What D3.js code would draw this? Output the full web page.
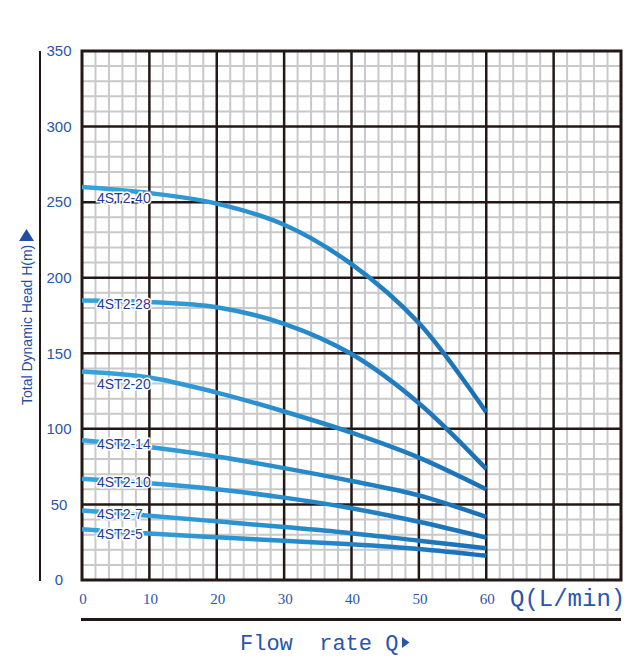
<!DOCTYPE html>
<html>
<head>
<meta charset="utf-8">
<script src="https://cdn.jsdelivr.net/npm/d3@7"></script>
<style>
  body { margin: 0; background: #fff; }
</style>
</head>
<body>
<div id="chart"></div>
<script>
// flow rate points (L/min) shared by every curve
var flow = [0, 10, 20, 30, 40, 50, 60];

// pump models, top to bottom
var models = ["4ST2-40", "4ST2-28", "4ST2-20", "4ST2-14", "4ST2-10", "4ST2-7", "4ST2-5"];

// head (m) for each model at the flow points above
var head40 = [260, 256, 249, 235, 209, 170, 111];
var head28 = [185, 184, 180.5, 169.5, 149.5, 117, 73.5];
var head20 = [138, 134, 124, 111.5, 97.5, 81, 60];
var head14 = [92.5, 88, 81.7, 74, 65.5, 56, 41.7];
var head10 = [67, 64, 60, 54.5, 47.5, 38.5, 28];
var head7 = [46, 42.5, 38.8, 35, 31, 26, 21];
var head5 = [33.5, 30.7, 28.3, 26, 23.6, 20.5, 16];

var heads = [head40, head28, head20, head14, head10, head7, head5];

// tick labels
var xTicks = [0, 10, 20, 30, 40, 50, 60];
var yTicks = [0, 50, 100, 150, 200, 250, 300, 350];

// label offsets below the start of each curve (px)
var labelDy = [16, 9, 18, 9, 8, 9, 10];

var W = 634, H = 658;
var plot = {left: 82, right: 621, top: 51, bottom: 580};

var blue = "#2a55ab";
var ink = "#231815";

var x = d3.scaleLinear().domain([0, 80]).range([plot.left, plot.right]);
var y = d3.scaleLinear().domain([0, 350]).range([plot.bottom, plot.top]);

var svg = d3.select("#chart").append("svg")
    .attr("width", W)
    .attr("height", H);

// gradient for the curves: light blue on the left, darker on the right
var grad = svg.append("defs").append("linearGradient")
    .attr("id", "curveGrad")
    .attr("gradientUnits", "userSpaceOnUse")
    .attr("x1", x(0)).attr("x2", x(60))
    .attr("y1", 0).attr("y2", 0);
grad.append("stop").attr("offset", "0%").attr("stop-color", "#36a5dd");
grad.append("stop").attr("offset", "50%").attr("stop-color", "#288dcc");
grad.append("stop").attr("offset", "100%").attr("stop-color", "#1a6fb6");

// minor grid
var grid = svg.append("g");
grid.selectAll(".vminor")
    .data(d3.range(0, 81, 2).filter(function(d) { return d % 10 != 0; }))
    .enter().append("line")
    .attr("x1", d => x(d)).attr("x2", d => x(d))
    .attr("y1", plot.top).attr("y2", plot.bottom)
    .attr("stroke", "#c9c9c9").attr("stroke-width", 2);
grid.selectAll(".hminor")
    .data(d3.range(0, 351, 10).filter(function(d) { return d % 50 != 0; }))
    .enter().append("line")
    .attr("y1", d => y(d)).attr("y2", d => y(d))
    .attr("x1", plot.left).attr("x2", plot.right)
    .attr("stroke", "#c9c9c9").attr("stroke-width", 2);

// major grid
grid.selectAll(".vmajor")
    .data(d3.range(10, 80, 10))
    .enter().append("line")
    .attr("x1", d => x(d)).attr("x2", d => x(d))
    .attr("y1", plot.top).attr("y2", plot.bottom)
    .attr("stroke", ink).attr("stroke-width", 2.5);
grid.selectAll(".hmajor")
    .data(d3.range(50, 350, 50))
    .enter().append("line")
    .attr("y1", d => y(d)).attr("y2", d => y(d))
    .attr("x1", plot.left).attr("x2", plot.right)
    .attr("stroke", ink).attr("stroke-width", 2.5);

// frame
svg.append("rect")
    .attr("x", plot.left).attr("y", plot.top)
    .attr("width", plot.right - plot.left)
    .attr("height", plot.bottom - plot.top)
    .attr("fill", "none")
    .attr("stroke", ink)
    .attr("stroke-width", 3);

// left axis rule
svg.append("line")
    .attr("x1", 40).attr("x2", 40)
    .attr("y1", plot.top).attr("y2", plot.bottom + 1)
    .attr("stroke", ink).attr("stroke-width", 2);

// curves
var line = d3.line()
    .x(function(d) { return x(d[0]); })
    .y(function(d) { return y(d[1]); })
    .curve(d3.curveCatmullRom.alpha(0.5));

svg.selectAll(".curve")
    .data(heads)
    .enter().append("path")
    .attr("class", "curve")
    .attr("fill", "none")
    .attr("stroke", "url(#curveGrad)")
    .attr("stroke-width", 4.5)
    .attr("d", function(h) { return line(flow.map(function(q, i) { return [q, h[i]]; })); });

// curve labels
svg.selectAll(".lbl")
    .data(models)
    .enter().append("text")
    .attr("x", 97)
    .attr("y", function(d, i) { return y(heads[i][0]) + labelDy[i]; })
    .attr("font-family", "Liberation Sans, Arial, sans-serif")
    .attr("font-size", 14)
    .attr("fill", "#1f3c92")
    .attr("stroke", "#fff")
    .attr("stroke-width", 3)
    .attr("paint-order", "stroke")
    .text(d => d);

// y tick labels
svg.selectAll(".ytick")
    .data(yTicks)
    .enter().append("text")
    .attr("x", 59)
    .attr("y", d => y(d))
    .attr("dy", "0.35em")
    .attr("text-anchor", "middle")
    .attr("font-family", "Liberation Sans, Arial, sans-serif")
    .attr("font-size", 15)
    .attr("fill", blue)
    .text(d => d);

// x tick labels
svg.selectAll(".xtick")
    .data(xTicks)
    .enter().append("text")
    .attr("x", d => x(d) + 1)
    .attr("y", 599)
    .attr("dy", "0.35em")
    .attr("text-anchor", "middle")
    .attr("font-family", "Liberation Serif, serif")
    .attr("font-size", 15)
    .attr("fill", blue)
    .text(d => d);

svg.append("text")
    .attr("x", 510)
    .attr("y", 598)
    .attr("dy", "0.35em")
    .attr("font-family", "Liberation Mono, monospace")
    .attr("font-size", 24)
    .attr("fill", blue)
    .text("Q(L/min)");

// bottom rule and title
svg.append("line")
    .attr("x1", plot.left - 1).attr("x2", plot.right)
    .attr("y1", 619.5).attr("y2", 619.5)
    .attr("stroke", ink).attr("stroke-width", 3);

svg.append("text")
    .attr("x", 240)
    .attr("y", 642)
    .attr("dy", "0.35em")
    .attr("font-family", "Liberation Mono, monospace")
    .attr("font-size", 22)
    .attr("fill", blue)
    .attr("xml:space", "preserve")
    .style("white-space", "pre")
    .text("Flow  rate Q");

svg.append("path")
    .attr("d", "M402,637 L409.5,642.5 L402,648 Z")
    .attr("fill", blue);

// y title
svg.append("text")
    .attr("transform", "translate(32,405) rotate(-90)")
    .attr("font-family", "Liberation Sans, Arial, sans-serif")
    .attr("font-size", 14)
    .attr("fill", "#1f4ea3")
    .text("Total Dynamic Head H(m)");

svg.append("path")
    .attr("d", "M19,241 L34,241 L26.5,229 Z")
    .attr("fill", "#1f4ea3");
</script>
</body>
</html>
